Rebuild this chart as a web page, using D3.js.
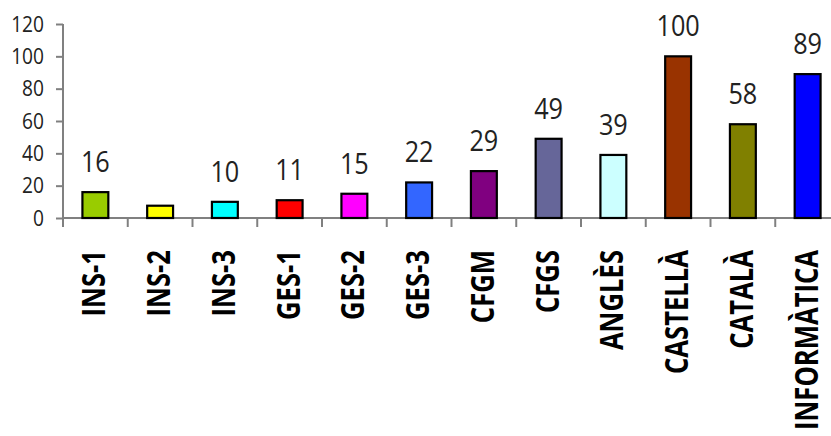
<!DOCTYPE html>
<html><head><meta charset="utf-8">
<script src="https://cdn.jsdelivr.net/npm/d3@7"></script>
<style>html,body{margin:0;padding:0;background:#fff;}svg{display:block;}</style>
</head><body>
<svg id="c" width="831" height="436"></svg>
<script>
const categories = ["INS-1","INS-2","INS-3","GES-1","GES-2","GES-3","CFGM","CFGS","ANGLÈS","CASTELLÀ","CATALÀ","INFORMÀTICA"];
const values = [16, 7.6, 10, 11, 15, 22, 29, 49, 39, 100, 58, 89];
const valueLabels = ["16", "", "10", "11", "15", "22", "29", "49", "39", "100", "58", "89"];
const colors = ["#99CC00","#FFFF00","#00FFFF","#FF0000","#FF00FF","#3366FF","#800080","#666699","#CCFFFF","#993300","#808000","#0000FF"];
const yTicks = [0, 20, 40, 60, 80, 100, 120];

(function () {
const svg = d3.select("#c");
const left = 63, step = 64.75, plotTop = 24, bottom = 218;
const x = d3.scaleBand().domain(categories).range([left, left + step * categories.length]).paddingInner(0.6).paddingOuter(0.3);
const y = d3.scaleLinear().domain([0, 120]).range([bottom, plotTop]);
const axisColor = "#808080";
const squeeze = 0.87;

function compress(sel, f) {
  sel.each(function() {
    const L = this.getComputedTextLength();
    if (L > 0) d3.select(this).attr("textLength", L * f).attr("lengthAdjust", "spacingAndGlyphs");
  });
}

// Y axis
const ya = svg.append("g").attr("transform", `translate(${left},0)`)
  .call(d3.axisLeft(y).tickValues(yTicks).tickSize(7).tickPadding(12).tickFormat(d3.format("d")));
ya.select(".domain").attr("stroke", axisColor).attr("stroke-width", 2).attr("d", `M0,${plotTop}V${bottom}`);
ya.selectAll(".tick line").attr("stroke", axisColor).attr("stroke-width", 2);
ya.selectAll(".tick text").attr("font-family", "Open Sans").attr("font-size", 22).attr("fill", "#222").call(compress, squeeze);

// X axis line and boundary ticks
const bounds = d3.range(categories.length + 1).map(i => left + i * step);
svg.append("line").attr("x1", left).attr("x2", 831).attr("y1", bottom).attr("y2", bottom)
  .attr("stroke", axisColor).attr("stroke-width", 2);
svg.selectAll(".xt").data(bounds).join("line").attr("class", "xt")
  .attr("x1", d => d).attr("x2", d => d).attr("y1", bottom).attr("y2", bottom + 9)
  .attr("stroke", axisColor).attr("stroke-width", 2);

// Bars
svg.selectAll(".bar").data(categories).join("rect").attr("class", "bar")
  .attr("x", d => x(d)).attr("width", x.bandwidth())
  .attr("y", (d, i) => y(values[i])).attr("height", (d, i) => bottom - y(values[i]))
  .attr("fill", (d, i) => colors[i]).attr("stroke", "#000").attr("stroke-width", 2.2);

// Value labels
svg.selectAll(".vl").data(categories).join("text").attr("class", "vl")
  .attr("x", d => x(d) + x.bandwidth() / 2)
  .attr("y", (d, i) => y(values[i]) - 20)
  .attr("text-anchor", "middle").attr("font-family", "Open Sans").attr("font-size", 29).attr("fill", "#222")
  .text((d, i) => valueLabels[i])
  .call(compress, squeeze);

// Category labels
const cl = svg.selectAll(".cl").data(categories).join("text").attr("class", "cl")
  .attr("transform", d => `translate(${x(d) + x.bandwidth() / 2 + 10},250) rotate(-90)`)
  .attr("text-anchor", "end").attr("font-family", "Open Sans").attr("font-weight", "bold")
  .attr("font-size", 32).attr("fill", "#000")
  .text(d => d);
const longest = d3.max(cl.nodes(), n => n.getComputedTextLength());
cl.call(compress, 180 / longest);
})();
</script>
</body></html>
